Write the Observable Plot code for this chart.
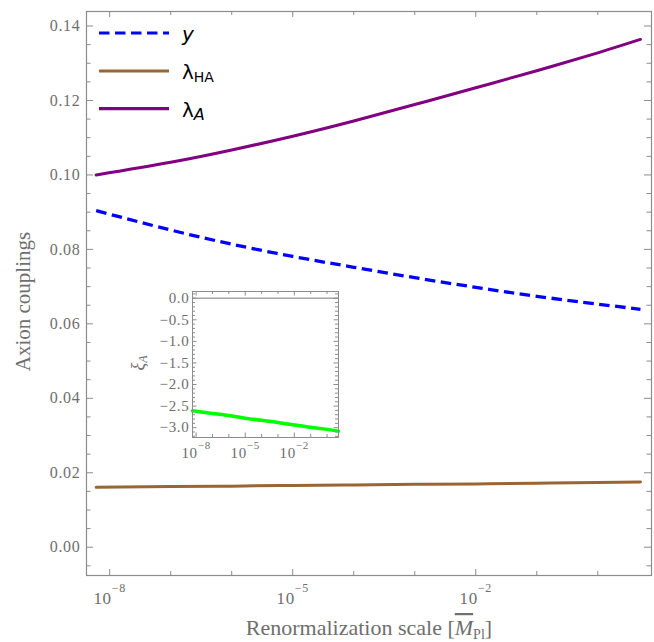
<!DOCTYPE html>
<html><head><meta charset="utf-8">
<script src="https://cdn.jsdelivr.net/npm/d3@7"></script>
<script src="https://cdn.jsdelivr.net/npm/@observablehq/plot@0.6"></script>
<style>
html,body{margin:0;padding:0;background:#fff;overflow:hidden;}
#wrap{position:relative;width:654px;height:642px;}
#main{position:absolute;left:0;top:0;}
#inset{position:absolute;left:125px;top:285px;}
svg text{font-family:"Liberation Serif",serif;}
svg g[aria-label$="tick label"] text{letter-spacing:0.7px;}
</style></head><body><div id="wrap"><div id="main"></div><div id="inset"></div></div>
<script>
// ---- data ----
const scale    = [6.0e-9, 1e-7, 1e-6, 1e-5, 1e-4, 1e-3, 1e-2, 1e-1, 1, 5.0];
const yukawa   = [0.0904, 0.0852, 0.0814, 0.0781, 0.0752, 0.0724, 0.0698, 0.0674, 0.0653, 0.0639];
const lambdaHA = [0.0161, 0.0163, 0.0164, 0.0166, 0.0167, 0.0169, 0.0170, 0.0172, 0.0174, 0.0175];
const lambdaA  = [0.1000, 0.1034, 0.1067, 0.1104, 0.1145, 0.1189, 0.1234, 0.1280, 0.1328, 0.1364];
const xiA      = [-2.61, -2.67, -2.72, -2.78, -2.83, -2.88, -2.94, -2.99, -3.04, -3.08];

// ---- ticks ----
const xMajor = [1e-8, 1e-5, 1e-2];
const xMinor = [1e-7, 1e-6, 1e-4, 1e-3, 1e-1, 1];
const yMajor = [0, 0.02, 0.04, 0.06, 0.08, 0.10, 0.12, 0.14];
const yMinor = [-0.005, 0.005, 0.01, 0.015, 0.025, 0.03, 0.035, 0.045, 0.05, 0.055,
                0.065, 0.07, 0.075, 0.085, 0.09, 0.095, 0.105, 0.11, 0.115, 0.125, 0.13, 0.135];
const inXMajor = [1e-8, 1e-5, 1e-2];
const inXMinor = [1e-7, 1e-6, 1e-4, 1e-3, 1e-1, 1];
const inYMajor = [0, -0.5, -1, -1.5, -2, -2.5, -3];
const inYMinor = [0.1, -0.1, -0.2, -0.3, -0.4, -0.6, -0.7, -0.8, -0.9, -1.1, -1.2, -1.3, -1.4,
                  -1.6, -1.7, -1.8, -1.9, -2.1, -2.2, -2.3, -2.4, -2.6, -2.7, -2.8, -2.9, -3.1, -3.2];

const rows = scale.map((mu, i) => ({mu, y: yukawa[i], lha: lambdaHA[i], la: lambdaA[i], xi: xiA[i]}));

const GRAY = "#8c8c8c", TXT = "#6e6e6e", SERIF = "Liberation Serif";
const W = 654, H = 642, mL = 86, mR = 3, mT = 11, mB = 67;
const iW = W - mL - mR, iH = H - mT - mB;

const main = Plot.plot({
  width: W, height: H,
  marginLeft: mL, marginRight: mR, marginTop: mT, marginBottom: mB,
  style: {fontFamily: SERIF, fontSize: "16px", color: TXT, background: "white"},
  x: {type: "log", domain: [10 ** -8.38, 10 ** 0.88]},
  y: {domain: [-0.0076, 0.1439]},
  marks: [
    Plot.ruleX(xMajor, {stroke: GRAY, strokeWidth: 1, insetTop: iH - 6}),
    Plot.ruleX(xMinor, {stroke: GRAY, strokeWidth: 1, insetTop: iH - 4}),
    Plot.ruleX(xMajor, {stroke: GRAY, strokeWidth: 1, insetBottom: iH - 6}),
    Plot.ruleX(xMinor, {stroke: GRAY, strokeWidth: 1, insetBottom: iH - 4}),
    Plot.ruleY(yMajor, {stroke: GRAY, strokeWidth: 1, insetRight: iW - 7}),
    Plot.ruleY(yMinor, {stroke: GRAY, strokeWidth: 1, insetRight: iW - 4.5}),
    Plot.ruleY(yMajor, {stroke: GRAY, strokeWidth: 1, insetLeft: iW - 7}),
    Plot.ruleY(yMinor, {stroke: GRAY, strokeWidth: 1, insetLeft: iW - 4.5}),
    Plot.line(rows, {x: "mu", y: "la", stroke: "#800080", strokeWidth: 3, curve: "natural"}),
    Plot.line(rows, {x: "mu", y: "lha", stroke: "#996633", strokeWidth: 3, curve: "natural"}),
    Plot.line(rows, {x: "mu", y: "y", stroke: "#0000ff", strokeWidth: 3.3, strokeDasharray: "10.5,5.5",
                     strokeLinecap: "butt", curve: "natural"}),
    Plot.frame({stroke: GRAY, strokeWidth: 1.2}),
    Plot.axisY(yMajor, {tickSize: 0, tickPadding: 6, tickFormat: d3.format(".2f"), label: null,
                        fontSize: 16, fontFamily: SERIF, fill: TXT}),
    Plot.axisX(xMajor, {tickSize: 0, tickPadding: 16, tickFormat: d => "10^" + Math.round(Math.log10(d)),
                        label: null, fontSize: 17, fontFamily: SERIF, fill: TXT})
  ]
});
document.getElementById("main").appendChild(main);

const inset = Plot.plot({
  width: 219, height: 177,
  marginLeft: 67, marginRight: 6, marginTop: 6, marginBottom: 25,
  style: {fontFamily: SERIF, fontSize: "14px", color: TXT, background: "transparent"},
  x: {type: "log", domain: [6.0e-9, 5.0]},
  y: {domain: [-3.228, 0.156]},
  marks: [
    Plot.frame({fill: "white", stroke: "none"}),
    Plot.ruleY([0], {stroke: "#a6a6a6", strokeWidth: 1.4}),
    Plot.ruleX(inXMajor, {stroke: GRAY, insetTop: 145.5 - 4}),
    Plot.ruleX(inXMinor, {stroke: GRAY, insetTop: 145.5 - 2.5}),
    Plot.ruleX(inXMajor, {stroke: GRAY, insetBottom: 145.5 - 4}),
    Plot.ruleX(inXMinor, {stroke: GRAY, insetBottom: 145.5 - 2.5}),
    Plot.ruleY(inYMajor, {stroke: GRAY, insetRight: 145.5 - 4}),
    Plot.ruleY(inYMinor, {stroke: GRAY, insetRight: 145.5 - 2.5}),
    Plot.ruleY(inYMajor, {stroke: GRAY, insetLeft: 145.5 - 4}),
    Plot.ruleY(inYMinor, {stroke: GRAY, insetLeft: 145.5 - 2.5}),
    Plot.line(rows, {x: "mu", y: "xi", stroke: "#00ff00", strokeWidth: 3.5, curve: "natural"}),
    Plot.frame({stroke: GRAY, strokeWidth: 1}),
    Plot.axisY(inYMajor, {tickSize: 0, tickPadding: 3, tickFormat: d3.format(".1f"), label: null,
                          fontSize: 15, fontFamily: SERIF, fill: TXT}),
    Plot.axisX(inXMajor, {tickSize: 0, tickPadding: 10, tickFormat: d => "10^" + Math.round(Math.log10(d)),
                          label: null, fontSize: 15, fontFamily: SERIF, fill: TXT})
  ]
});
document.getElementById("inset").appendChild(inset);

function supify(svgNode, supSize, supDy) {
  d3.select(svgNode).selectAll("text").each(function () {
    const t = this.textContent;
    const m = /^10\^(-?\d+)$/.exec(t);
    if (!m) return;
    const sel = d3.select(this);
    sel.text(null);
    sel.append("tspan").text("10");
    sel.append("tspan").attr("dy", supDy).attr("font-size", supSize).text(m[1].replace("-", "\u2212"));
  });
}
supify(main, 12, -12);
supify(inset, 11, -9.5);

const ms = d3.select(main);
ms.append("text").attr("transform", "translate(30,301.5) rotate(-90)")
  .attr("text-anchor", "middle").attr("font-size", 21).attr("fill", TXT)
  .style("font-family", SERIF).text("Axion couplings");

const xt = ms.append("text").attr("x", 369).attr("y", 635).attr("text-anchor", "middle")
  .attr("font-size", 22).attr("fill", TXT).style("font-family", SERIF);
xt.append("tspan").text("Renormalization scale [");
xt.append("tspan").attr("font-style", "italic").style("text-decoration", "overline").text("M");
xt.append("tspan").attr("font-size", 14).attr("dy", 4).text("Pl");
xt.append("tspan").attr("dy", -4).text("]");

const legendItems = [
  {ly: 33, color: "#0000ff", dash: "10.5,5.5", main: "y", mainItalic: true, sub: null},
  {ly: 71, color: "#996633", dash: null, main: "\u03bb", mainItalic: false, sub: "HA", subItalic: false, subSize: 14},
  {ly: 108.7, color: "#800080", dash: null, main: "\u03bb", mainItalic: false, sub: "A", subItalic: true, subSize: 16}
];
const lg = ms.append("g");
legendItems.forEach(it => {
  lg.append("line").attr("x1", 99).attr("x2", 169).attr("y1", it.ly).attr("y2", it.ly)
    .attr("stroke", it.color).attr("stroke-width", 3.2)
    .attr("stroke-dasharray", it.dash).attr("stroke-linecap", "butt");
  const t = lg.append("text").attr("x", 182).attr("y", it.ly + 8).attr("font-size", 20)
    .attr("text-anchor", "start").style("font-family", "DejaVu Sans").attr("fill", "#000");
  t.append("tspan").attr("font-style", it.mainItalic ? "italic" : "normal").text(it.main);
  if (it.sub) t.append("tspan").attr("dy", 3).attr("font-size", it.subSize)
    .attr("font-style", it.subItalic ? "italic" : "normal").text(it.sub);
});

const is = d3.select(inset);
const xl = is.append("text").attr("transform", "translate(19,78) rotate(-90)")
  .attr("text-anchor", "middle").attr("font-size", 18).attr("fill", TXT)
  .style("font-family", SERIF).attr("font-style", "italic");
xl.append("tspan").text("\u03be");
xl.append("tspan").attr("font-size", 12).attr("dy", 3).text("A");
</script></body></html>
